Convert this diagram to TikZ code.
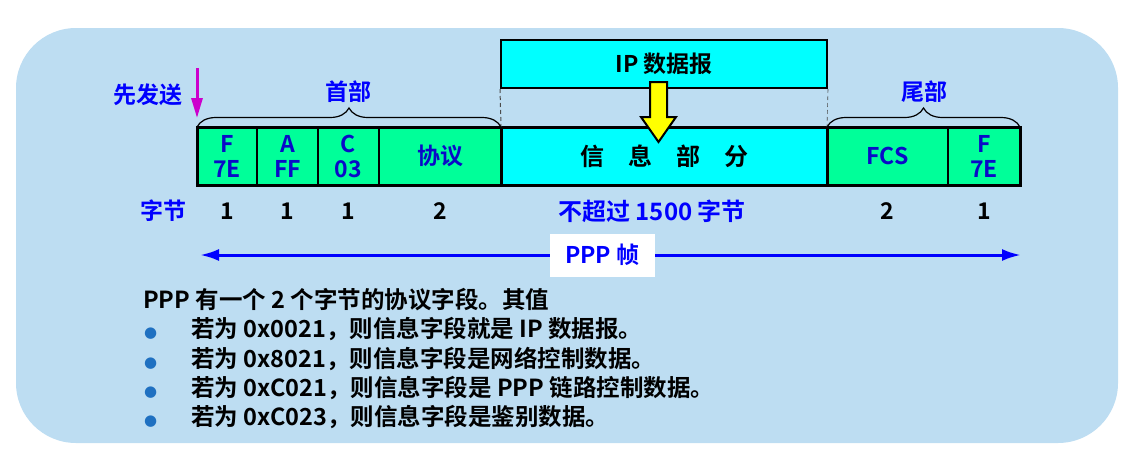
\documentclass[tikz,border=0pt]{standalone}
\usepackage{fontspec}
\setmainfont{Noto Sans CJK SC}[UprightFont=* Bold, BoldFont=* Bold]
\newfontfamily\symfont{DejaVu Sans}
\usepackage{tikz}
\usetikzlibrary{arrows.meta,positioning,decorations.pathreplacing}

\definecolor{panelbg}{RGB}{189,221,242}
\definecolor{fieldgreen}{RGB}{0,255,153}
\definecolor{infocyan}{RGB}{0,255,255}
\definecolor{labelblue}{RGB}{0,0,255}
\definecolor{fieldblue}{RGB}{10,10,200}
\definecolor{sendmag}{RGB}{204,0,204}
\definecolor{bulletblue}{RGB}{31,112,193}
\definecolor{arrowyellow}{RGB}{255,255,0}

\newcommand{\bul}{\makebox[48pt][l]{\hspace{1pt}{\symfont\fontsize{15}{15}\selectfont\color{bulletblue}●}}}

\begin{document}
\begin{tikzpicture}[
  x=1pt, y=-1pt,
  field/.style={draw=black, line width=1.2pt, fill=fieldgreen, outer sep=0pt,
    inner sep=0pt, minimum height=58pt, align=center, text=fieldblue,
    font=\fontsize{23}{25}\selectfont},
  infofield/.style={field, line width=3pt, fill=infocyan, text=black,
    font=\fontsize{24}{26}\selectfont},
  ipbox/.style={draw=black, line width=2pt, fill=infocyan, minimum width=326pt,
    minimum height=48pt, font=\fontsize{23}{26}\selectfont},
  lbl/.style={text=labelblue, font=\fontsize{23}{26}\selectfont},
  num/.style={text=black, font=\fontsize{23}{26}\selectfont},
  brace/.style={decorate, decoration={brace, amplitude=19pt}, line width=1.2pt},
  guide/.style={draw=black!70, line width=1pt, dash pattern=on 4pt off 3pt},
  ppparrow/.style={{Latex[length=19pt,width=12pt]}-{Latex[length=19pt,width=12pt]},
    draw=labelblue, line width=3pt},
  framelbl/.style={fill=white, text=labelblue, minimum width=105pt, minimum height=43pt,
    inner sep=0pt, font=\fontsize{23}{26}\selectfont},
  notes/.style={align=left, inner sep=0pt, font=\fontsize{23.5}{29.3}\selectfont}
]
\useasboundingbox (0,0) rectangle (1126,461);
\fill[panelbg, rounded corners=60pt] (16,28) rectangle (1118,443);

% IP datagram above the frame
\node[ipbox] (ipbox) at (664,64) {IP 数据报};

% PPP frame fields
\node[field, minimum width=60pt] (fF1) at (227,156) {F\\7E};
\node[field, minimum width=61pt, right=0pt of fF1] (fA) {A\\FF};
\node[field, minimum width=61pt, right=0pt of fA] (fC) {C\\03};
\node[field, minimum width=122pt, right=0pt of fC] (fProto) {\raisebox{-4pt}{协议}};
\node[infofield, minimum width=326pt, right=0pt of fProto] (fInfo) {信\hspace{1em}息\hspace{1em}部\hspace{1em}分};
\node[field, minimum width=121pt, right=0pt of fInfo] (fFCS) {FCS};
\node[field, minimum width=72pt, right=0pt of fFCS] (fF2) {F\\7E};
\draw[line width=3pt] (fF1.north west) rectangle (fProto.south east);
\draw[line width=3pt] (fFCS.north west) rectangle (fF2.south east);

\draw[guide] (ipbox.south west) -- (fInfo.north west);
\draw[guide, line width=0.6pt] (ipbox.south east) -- (fInfo.north east);

% yellow arrow
\coordinate (ya) at (658.5,82);
\draw[fill=arrowyellow, line width=2pt, line join=miter]
  (ya) ++(-8.5,0) -- ++(17,0) -- ++(0,35) -- ++(9,0) -- ++(-17.5,25)
  -- ++(-17.5,-25) -- ++(9,0) -- cycle;

% header and trailer
\draw[brace] (fF1.north west) -- (fProto.north east);
\draw[brace] (fFCS.north west) -- (fF2.north east);
\node[lbl] (head) at (348,92) {首部};
\node[lbl] (tail) at (924,92) {尾部};

\node[lbl] (send) at (148,95) {先发送};
\coordinate (sendtop) at (197,68);
\draw[-{Triangle[length=20pt,width=11pt]}, draw=sendmag, fill=sendmag, line width=3pt]
  (sendtop) -- ([yshift=9pt]fF1.north west);

% byte counts
\coordinate (byterow) at (0,211);
\node[lbl] (bytes) at (163,211) {字节};
\node[num] (nF1) at (fF1 |- byterow) {1};
\node[num] (nA) at (fA |- byterow) {1};
\node[num] (nC) at (fC |- byterow) {1};
\node[num] (nProto) at (fProto |- byterow) {2};
\node[lbl, xshift=-12pt, font=\fontsize{24}{26}\selectfont] (nInfo) at (fInfo |- byterow) {不超过 1500 字节};
\node[num] (nFCS) at (fFCS |- byterow) {2};
\node[num] (nF2) at (fF2 |- byterow) {1};

% whole frame
\coordinate (pppL) at (200,255);
\coordinate (pppR) at (1021,255);
\draw[ppparrow] (pppL) -- node[pos=0.49, framelbl] (ppp) {PPP 帧} (pppR);

% notes
\node[notes, anchor=north west] (notes) at (143,288) {PPP 有一个 2 个字节的协议字段。其值\\
\bul 若为 0x0021，则信息字段就是 IP 数据报。\\
\bul 若为 0x8021，则信息字段是网络控制数据。\\
\bul 若为 0xC021，则信息字段是 PPP 链路控制数据。\\
\bul 若为 0xC023，则信息字段是鉴别数据。};
\end{tikzpicture}
\end{document}
